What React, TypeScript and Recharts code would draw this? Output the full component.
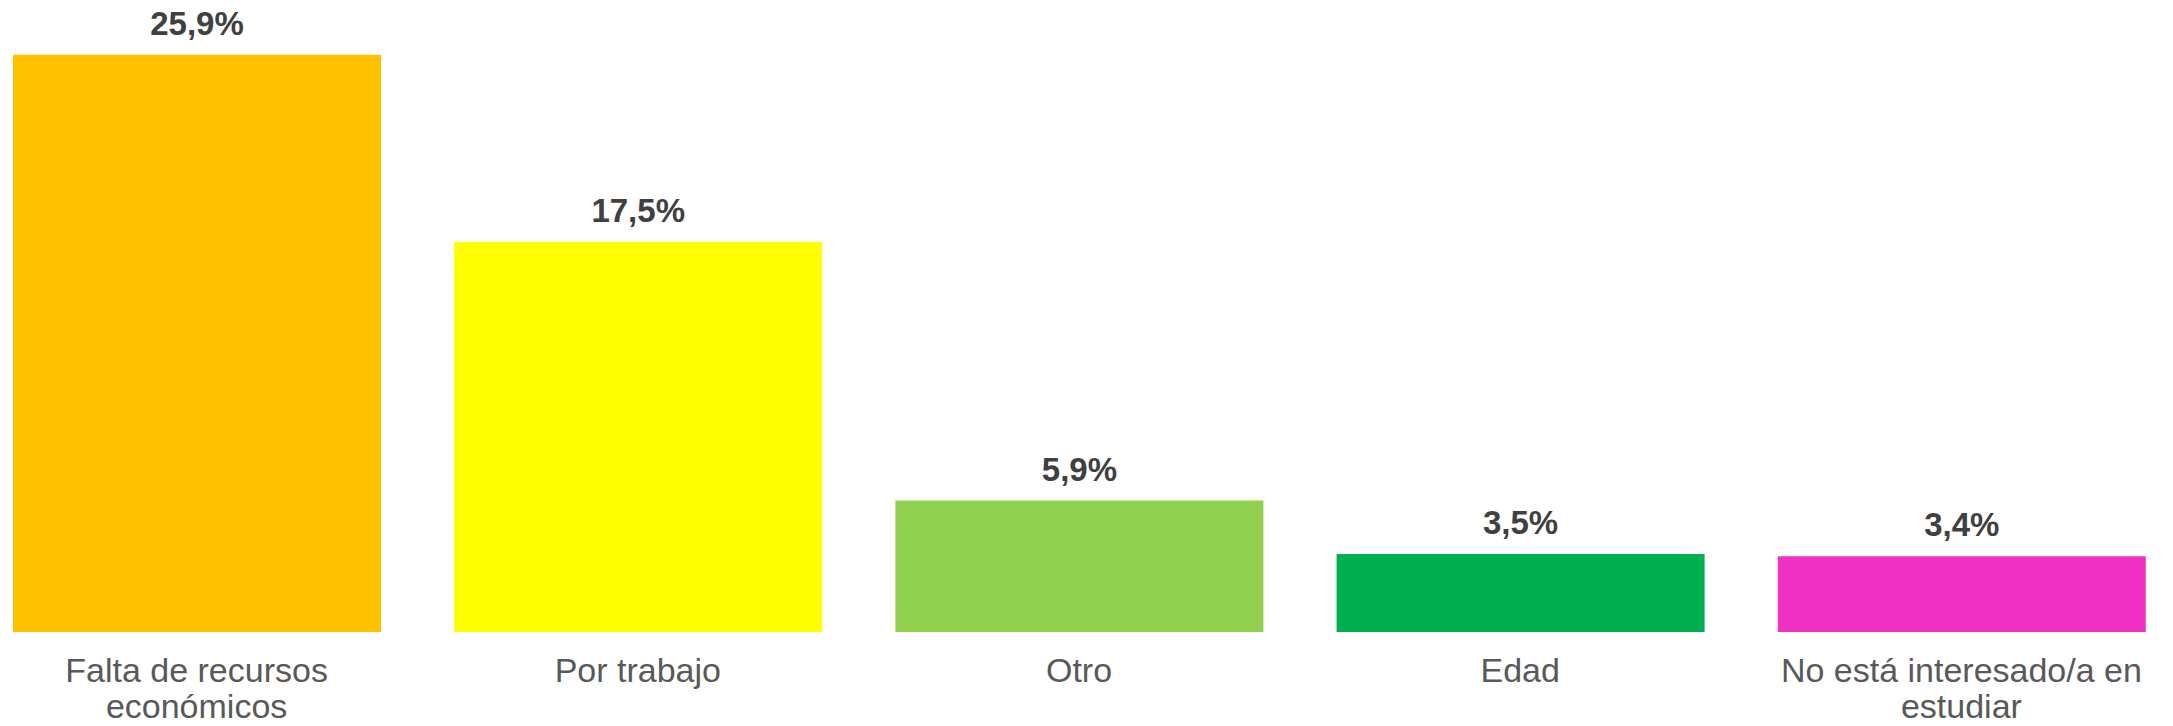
import React from 'react';
import { BarChart, Bar, XAxis, YAxis, Cell, LabelList } from 'recharts';

const categories = ['Falta de recursos económicos', 'Por trabajo', 'Otro', 'Edad', 'No está interesado/a en estudiar'];
const values = [25.9, 17.5, 5.9, 3.5, 3.4];
const barColors = ['#FFC000', '#FFFF00', '#92D050', '#00B050', '#F032C4'];

const FONT = '"Liberation Sans", Arial, sans-serif';

const data = categories.map((name, i) => ({ name, value: values[i] }));

const wrapWords = (text: string, maxChars: number) => {
  const lines: string[] = [];
  let current = '';
  text.split(' ').forEach(word => {
    const next = current ? `${current} ${word}` : word;
    if (next.length > maxChars && current) {
      lines.push(current);
      current = word;
    } else {
      current = next;
    }
  });
  if (current) lines.push(current);
  return lines;
};

const CategoryTick = ({ x, y, payload }: any) => {
  const lines = wrapWords(payload.value, 23);
  return (
    <text x={x} y={y} textAnchor="middle" fill="#595959" fontSize={34} fontFamily={FONT}>
      {lines.map((line, i) => (
        <tspan key={i} x={x} dy={i === 0 ? 50 : 36}>{line}</tspan>
      ))}
    </text>
  );
};

const formatPct = (v: any) => `${Number(v).toFixed(1).replace('.', ',')}%`;

const App: React.FC = () => {
  return (
    <div style={{ position: 'absolute', left: 0, top: 0, width: 2173, height: 726, overflow: 'hidden', background: '#ffffff' }}>
      <div style={{ position: 'absolute', left: -24, top: 0 }}>
        <BarChart width={2206} height={726} data={data} margin={{ top: 8, right: 0, left: 0, bottom: 0 }}>
          <XAxis
            dataKey="name"
            axisLine={false}
            tickLine={false}
            tickSize={0}
            tickMargin={0}
            height={94}
            interval={0}
            tick={<CategoryTick />}
          />
          <YAxis hide domain={[0, 28]} />
          <Bar dataKey="value" barSize={368} isAnimationActive={false}>
            {data.map((d, i) => (
              <Cell key={d.name} fill={barColors[i]} />
            ))}
            <LabelList
              dataKey="value"
              position="top"
              offset={20}
              formatter={formatPct}
              fill="#404040"
              fontSize={33}
              fontWeight="bold"
              fontFamily={FONT}
            />
          </Bar>
        </BarChart>
      </div>
    </div>
  );
};

export default App;
